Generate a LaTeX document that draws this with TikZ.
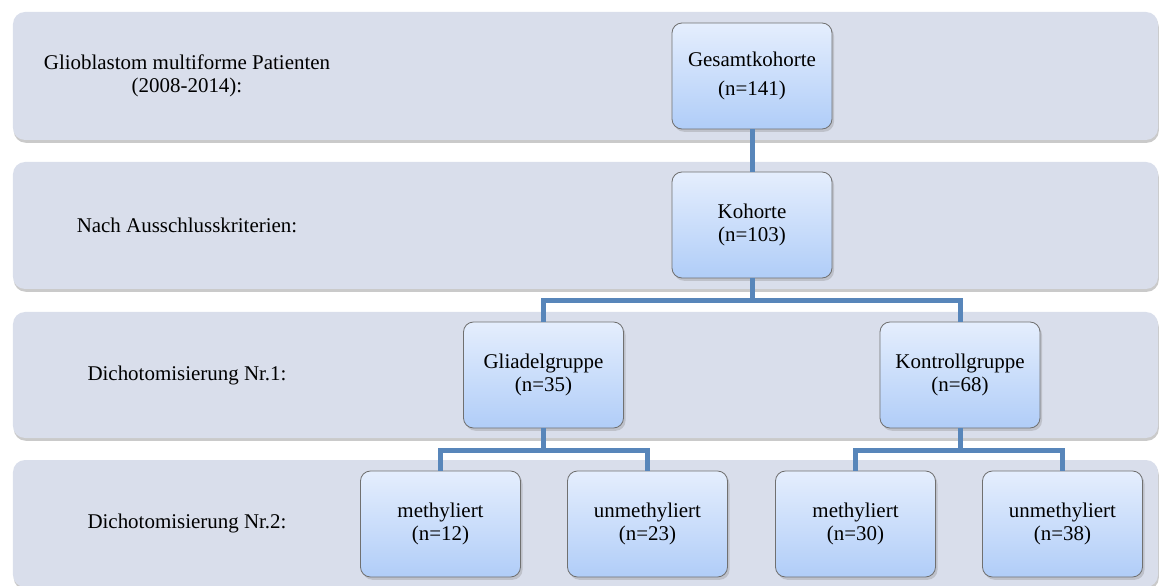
\documentclass[tikz,border=0pt]{standalone}
\usepackage{fontspec}
\setmainfont{Liberation Serif}
\usetikzlibrary{shadows}
\definecolor{bandfill}{RGB}{217,222,235}
\definecolor{boxtop}{RGB}{229,238,253}
\definecolor{boxbottom}{RGB}{176,205,248}
\definecolor{boxline}{RGB}{112,112,112}
\definecolor{linkblue}{RGB}{88,134,186}
\tikzset{
  band/.style={fill=bandfill, rounded corners=0.3cm,
    drop shadow={shadow xshift=0.02cm, shadow yshift=-0.07cm, opacity=0.35, fill=black!60}},
  bandlabel/.style={align=center, font=\fontsize{14.9}{16.1}\selectfont},
  grp/.style={draw=boxline, line width=0.6pt, rounded corners=0.25cm,
    top color=boxtop, bottom color=boxbottom,
    minimum width=4cm, minimum height=2.65cm, inner sep=0pt, align=center,
    font=\fontsize{14.9}{16.1}\selectfont,
    drop shadow={shadow xshift=0.05cm, shadow yshift=-0.07cm, opacity=0.3}},
  link/.style={draw=linkblue, line width=0.125cm}
}
\begin{document}
\begin{tikzpicture}
\useasboundingbox (0,0) rectangle (29.025,14.625);
% bands
\foreach \top/\bot in {14.325/11.125, 10.575/7.4, 6.825/3.675, 3.125/-0.05}
  \fill[band] (0.325,\top) rectangle (28.95,\bot);
\node[bandlabel] (lab1) at (4.675,12.725) {Glioblastom multiforme Patienten\\(2008-2014):};
\node[bandlabel] (lab2) at (4.675,8.9875) {Nach Ausschlusskriterien:};
\node[bandlabel] (lab3) at (4.675,5.25) {Dichotomisierung Nr.1:};
\node[bandlabel] (lab4) at (4.675,1.5375) {Dichotomisierung Nr.2:};
% groups
\node[grp] (gesamt) at (18.8,12.725) {Gesamtkohorte\\[5pt](n=141)};
\node[grp] (kohorte) at (18.8,9.0) {Kohorte\\(n=103)};
\node[grp] (gliadel) at (13.5875,5.25) {Gliadelgruppe\\(n=35)};
\node[grp] (kontroll) at (24.0,5.25) {Kontrollgruppe\\(n=68)};
\node[grp] (methA) at (11.0125,1.525) {methyliert\\(n=12)};
\node[grp] (unmethA) at (16.1875,1.525) {unmethyliert\\(n=23)};
\node[grp] (methB) at (21.3875,1.525) {methyliert\\(n=30)};
\node[grp] (unmethB) at (26.5625,1.525) {unmethyliert\\(n=38)};
% connectors
\draw[link] (gesamt) -- (kohorte);
\draw[link] (kohorte.south) -- ++(0,-0.55) -| (gliadel.north);
\draw[link] (kohorte.south) -- ++(0,-0.55) -| (kontroll.north);
\draw[link] (gliadel.south) -- ++(0,-0.55) -| (methA.north);
\draw[link] (gliadel.south) -- ++(0,-0.55) -| (unmethA.north);
\draw[link] (kontroll.south) -- ++(0,-0.55) -| (methB.north);
\draw[link] (kontroll.south) -- ++(0,-0.55) -| (unmethB.north);
\end{tikzpicture}
\end{document}
